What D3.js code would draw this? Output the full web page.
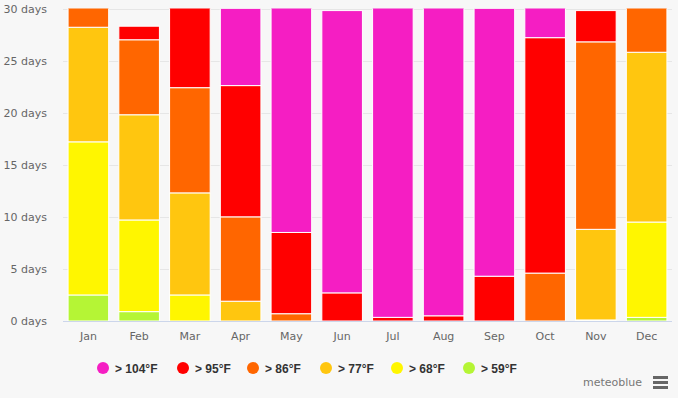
<!DOCTYPE html>
<html>
<head>
<meta charset="utf-8">
<script src="https://cdn.jsdelivr.net/npm/d3@7"></script>
<style>
  body { margin: 0; background: #f7f7f7; }
  svg { display: block; font-family: "DejaVu Sans", sans-serif; }
</style>
</head>
<body>
<svg id="chart" width="678" height="398"></svg>
<script>
var months = ["Jan", "Feb", "Mar", "Apr", "May", "Jun", "Jul", "Aug", "Sep", "Oct", "Nov", "Dec"];

// days per month with max temperature in each band (bottom to top)
var over59 = [2.5, 0.9, 0, 0, 0, 0, 0, 0, 0, 0, 0, 0.35];
var over68 = [14.7, 8.8, 2.5, 0, 0, 0, 0, 0, 0, 0, 0.1, 9.15];
var over77 = [11.0, 10.1, 9.8, 1.9, 0, 0, 0, 0, 0, 0, 8.7, 16.3];
var over86 = [2.8, 7.2, 10.1, 8.1, 0.7, 0, 0, 0, 0, 4.6, 18.0, 5.2];
var over95 = [0, 1.3, 8.6, 12.6, 7.8, 2.7, 0.35, 0.5, 4.3, 22.6, 3.0, 0];
var over104 = [0, 0, 0, 7.4, 22.5, 27.1, 30.65, 30.5, 25.7, 3.8, 0, 0];

var yTicks = [0, 5, 10, 15, 20, 25, 30];
var seriesNames = ["> 104°F", "> 95°F", "> 86°F", "> 77°F", "> 68°F", "> 59°F"];
var seriesColors = ["#f51ec3", "#ff0000", "#ff6600", "#ffc60f", "#fff600", "#b5f535"];

var stackOrder = [over59, over68, over77, over86, over95, over104];
var stackColors = seriesColors.slice().reverse();

var svg = d3.select("#chart");
var plotLeft = 63, plotRight = 672, plotTop = 8.5, plotBottom = 321;

var x = d3.scaleBand().domain(months).range([plotLeft, plotRight]).paddingInner(0.2).paddingOuter(0.1);
var y = d3.scaleLinear().domain([0, 30]).range([plotBottom, plotTop]);

// gridlines
svg.append("g").selectAll("line").data(yTicks.slice(1)).join("line")
	.attr("x1", plotLeft).attr("x2", plotRight)
	.attr("y1", function (d) { return Math.round(y(d)) + 0.5; })
	.attr("y2", function (d) { return Math.round(y(d)) + 0.5; })
	.attr("stroke", "#e6e6e6");

// y labels
svg.append("g").selectAll("text").data(yTicks).join("text")
	.attr("x", 47).attr("y", function (d) { return y(d) + 4; })
	.attr("text-anchor", "end")
	.attr("font-size", 11).attr("fill", "#666")
	.text(function (d) { return d + " days"; });

svg.append("clipPath").attr("id", "plot")
	.append("rect").attr("x", plotLeft).attr("y", plotTop).attr("width", plotRight - plotLeft).attr("height", plotBottom - plotTop);

var table = months.map(function (m, i) {
	var row = { month: m };
	stackOrder.forEach(function (s, k) { row["s" + k] = s[i]; });
	return row;
});
var stacked = d3.stack().keys(stackOrder.map(function (s, k) { return "s" + k; }))(table);

var bars = svg.append("g").attr("clip-path", "url(#plot)");
stacked.forEach(function (layer, k) {
	bars.append("g").selectAll("rect").data(layer.filter(function (d) { return d[1] - d[0] > 0; })).join("rect")
		.attr("x", function (d) { return x(d.data.month); })
		.attr("width", x.bandwidth())
		.attr("y", function (d) { return y(d[1]); })
		.attr("height", function (d) { return y(d[0]) - y(d[1]); })
		.attr("fill", stackColors[k])
		.attr("stroke", "#ffffff").attr("stroke-width", 1);
});

// x axis line
svg.append("line").attr("x1", plotLeft).attr("x2", plotRight)
	.attr("y1", plotBottom + 0.5).attr("y2", plotBottom + 0.5)
	.attr("stroke", "#ccd6eb");

svg.append("g").selectAll("text").data(months).join("text")
	.attr("x", function (d) { return x(d) + x.bandwidth() / 2; })
	.attr("y", 340)
	.attr("text-anchor", "middle")
	.attr("font-size", 11).attr("fill", "#666")
	.text(function (d) { return d; });

// legend
var legendX = [103, 183, 253, 326, 397, 469];
var legend = svg.append("g").selectAll("g").data(seriesNames).join("g")
	.attr("transform", function (d, i) { return "translate(" + legendX[i] + ",368)"; });
legend.append("circle").attr("r", 6).attr("fill", function (d, i) { return seriesColors[i]; });
legend.append("text").attr("x", 12).attr("y", 4.5)
	.attr("font-size", 12).attr("font-weight", "bold").attr("fill", "#333")
	.attr("font-family", "'Liberation Sans', sans-serif")
	.text(function (d) { return d; });

// credit and menu
svg.append("text").attr("x", 642).attr("y", 386).attr("text-anchor", "end")
	.attr("font-size", 11).attr("fill", "#777").text("meteoblue");
svg.append("g").selectAll("rect").data([0, 1, 2]).join("rect")
	.attr("x", 653).attr("y", function (d) { return 376 + d * 5; })
	.attr("width", 15).attr("height", 3).attr("fill", "#666");
</script>
</body>
</html>
